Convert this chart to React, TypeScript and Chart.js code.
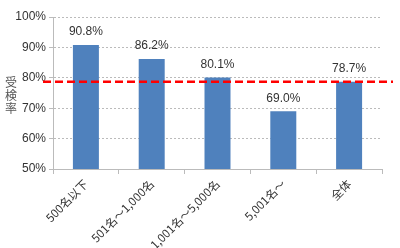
import React, { useEffect, useRef } from "react";
import { Chart, registerables } from "chart.js";

Chart.register(...registerables);

const categories = ["500名以下", "501名～1,000名", "1,001名～5,000名", "5,001名～", "全体"];
const rates = [90.8, 86.2, 80.1, 69.0, 78.7];
const referenceRate = 78.7;
const yTitle = ["受", "検", "率"];

const FONT = "'Liberation Sans', Arial, sans-serif";
const JFONT = "'Noto Sans CJK JP', 'Liberation Sans', sans-serif";

const extrasPlugin = {
  id: "extras",
  afterDatasetsDraw(chart: any) {
    const ctx = chart.ctx;
    const meta = chart.getDatasetMeta(0);
    ctx.save();
    ctx.font = `12px ${FONT}`;
    ctx.fillStyle = "#333";
    ctx.textAlign = "center";
    ctx.textBaseline = "bottom";
    meta.data.forEach((bar: any, i: number) => {
      ctx.fillText(rates[i].toFixed(1) + "%", bar.x, bar.y - 7);
    });
    const y = chart.scales.y.getPixelForValue(referenceRate);
    ctx.strokeStyle = "#ff0000";
    ctx.lineWidth = 2.5;
    ctx.setLineDash([8, 4]);
    ctx.beginPath();
    ctx.moveTo(chart.chartArea.left - 10, y);
    ctx.lineTo(chart.chartArea.right + 11, y);
    ctx.stroke();
    ctx.restore();
  },
};

export default function App() {
  const ref = useRef<HTMLCanvasElement>(null);
  useEffect(() => {
    const chart = new Chart(ref.current!, {
      type: "bar",
      data: {
        labels: categories,
        datasets: [
          {
            data: rates,
            backgroundColor: "#4f81bd",
            borderWidth: 0,
            barPercentage: 0.395,
            categoryPercentage: 1,
          },
        ],
      },
      options: {
        animation: false,
        responsive: false,
        maintainAspectRatio: false,
        layout: { padding: { left: 0, right: 18, top: 17, bottom: 0 } },
        plugins: { legend: { display: false }, tooltip: { enabled: false } },
        scales: {
          x: {
            afterFit(scale: any) {
              scale.height = 79;
            },
            grid: { display: true, drawOnChartArea: false, tickLength: 5, color: "#bbb", offset: true },
            border: { color: "#bbb" },
            ticks: {
              maxRotation: 45,
              minRotation: 45,
              font: { size: 11.5, family: JFONT },
              color: "#333",
              padding: 3,
            },
          },
          y: {
            min: 50,
            max: 100,
            afterFit(scale: any) {
              scale.width = 53;
            },
            ticks: {
              stepSize: 10,
              callback: (v: any) => v + "%",
              font: { size: 12, family: FONT },
              color: "#333",
              padding: 3,
            },
            grid: { color: "#bbb", tickLength: 4, lineWidth: 1, tickBorderDash: [] },
            border: { color: "#bbb", dash: [2, 2] },
          },
        },
      },
      plugins: [extrasPlugin],
    });
    return () => chart.destroy();
  }, []);
  return (
    <div style={{ position: "fixed", left: 0, top: 0, width: 400, height: 248, background: "#fff" }}>
      <canvas ref={ref} width={400} height={248} style={{ width: 400, height: 248, display: "block" }} />
      <div
        style={{
          position: "absolute",
          left: 4,
          top: 75,
          width: 14,
          fontFamily: JFONT,
          fontSize: 12,
          lineHeight: "13px",
          color: "#555",
          textAlign: "center",
        }}
      >
        {yTitle.map((c, i) => (
          <div key={i}>{c}</div>
        ))}
      </div>
    </div>
  );
}
